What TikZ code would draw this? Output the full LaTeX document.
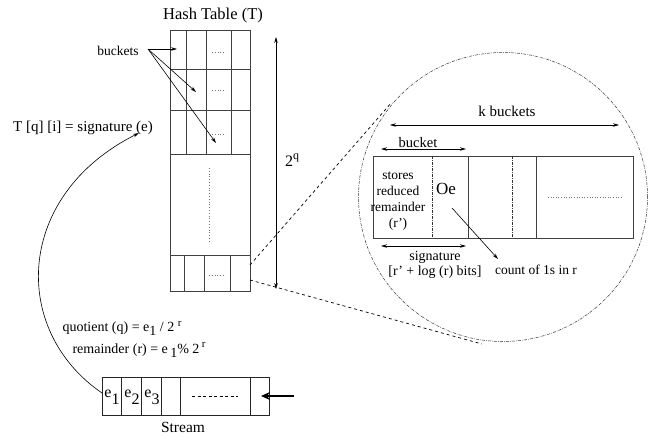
\documentclass[tikz,border=0pt]{standalone}
\usepackage{fontspec}
\setmainfont{Liberation Serif}
\usetikzlibrary{arrows.meta}
\tikzset{
  tbl/.style={draw=black!75, line width=0.9pt},
  thinline/.style={draw=black, line width=0.6pt},
  tip/.style={-{Stealth[length=6pt,width=3.5pt]}},
  dtip/.style={{Stealth[length=6pt,width=3.5pt]}-{Stealth[length=6pt,width=3.5pt]}},
  lbl/.style={inner sep=0pt, font=\fontsize{15}{18}\selectfont},
  slbl/.style={inner sep=0pt, font=\fontsize{13.5}{16}\selectfont},
  dots/.style={draw=black!55, dotted, line width=0.8pt},
  zoomline/.style={draw=black, dashed, dash pattern=on 3pt off 3pt, line width=0.7pt},
  dashdot/.style={draw=black!80, line width=0.5pt, dash pattern=on 3pt off 1.2pt on 0.6pt off 1.2pt},
}
\begin{document}
\begin{tikzpicture}[x=1pt,y=-1pt]
\useasboundingbox (0,0) rectangle (651,437);

% ---------- Hash table ----------
\node[lbl, font=\fontsize{16.5}{18}\selectfont] (title) at (213,16) {Hash Table (T)};
\draw[tbl] (170,30) rectangle (250,291);
\draw[tbl] (170,69) -- (250,69);
\draw[tbl] (170,110) -- (250,110);
\draw[tbl] (170,154) -- (250,154);
\draw[tbl] (170,255) -- (250,255);
\foreach \x in {186,206,231} \draw[tbl] (\x,30) -- (\x,154);
\foreach \x in {184.5,204,230} \draw[tbl] (\x,255) -- (\x,291);
\foreach \y in {52,90,134} \draw[dots] (212,\y) -- (226,\y);
\draw[dots] (209,275) -- (224,275);
\draw[dots] (209,168) -- (209,241);

% buckets label and arrows
\node[slbl] (bk) at (118,51) {buckets};
\coordinate (bks) at (148,49);
\coordinate (b1) at (177,49);
\coordinate (b2) at (196,92);
\coordinate (b3) at (216,143);
\draw[thinline,tip] (bks) -- (b1);
\draw[thinline,tip] (bks) -- (b2);
\draw[thinline,tip] (bks) -- (b3);

% 2^q arrow
\coordinate (qt) at (276,37);
\coordinate (qb) at (276,289);
\draw[thinline,dtip] (qb) -- (qt);
\node[lbl, font=\fontsize{16}{18}\selectfont] (twoq) at (292,160) {2\raisebox{0.9ex}{\fontsize{12}{12}\selectfont q}};

% zoom lines
\coordinate (z1a) at (250,265);
\coordinate (z1b) at (392,102);
\coordinate (z2a) at (250,280);
\coordinate (z2b) at (482,344);
\draw[zoomline] (z1a) -- (z1b);
\draw[zoomline] (z2a) -- (z2b);

% ---------- Zoom circle ----------
\node[dashdot, circle, minimum size=289pt, inner sep=0pt] (circ) at (503,197) {};
\draw[tbl] (373,156) rectangle (633,238);
\draw[tbl] (468,156) -- (468,238);
\draw[tbl] (536,156) -- (536,238);
\draw[dashdot, line width=0.6pt] (432,156) -- (432,238);
\draw[dashdot, line width=0.6pt] (512,156) -- (512,238);
\draw[dots, line width=0.6pt] (548,197) -- (621,197);

\node[lbl] (kb) at (507,111) {k buckets};
\coordinate (kl) at (390,125);
\coordinate (kr) at (619,125);
\draw[thinline,dtip] (kl) -- (kr);

\node[slbl,font=\fontsize{14.5}{16}\selectfont] (bkt) at (418,143) {bucket};
\coordinate (bl) at (381,149);
\coordinate (br) at (466,149);
\draw[thinline,dtip,line width=0.9pt] (bl) -- (br);

\node[slbl, align=center, font=\fontsize{13.5}{16}\selectfont] (stores) at (398,201) {stores\\reduced\\remainder\\(r')};
\node[inner sep=0pt, font=\fontsize{17}{20}\selectfont] (oe) at (446,189) {Oe};
\coordinate (oa) at (452,208);
\coordinate (ob) at (498,259);
\draw[thinline,tip] (oa) -- (ob);

\coordinate (sl) at (381,246);
\coordinate (sr) at (466,246);
\draw[thinline,dtip,line width=0.9pt] (sl) -- (sr);
\node[slbl, align=center, font=\fontsize{14}{15}\selectfont] (sig) at (435,265) {signature\\{}[r' + log (r) bits]};
\node[slbl] (count) at (536,270) {count of 1s in r};

% ---------- left side ----------
\node[lbl] (tq) at (83,128) {T [q] [i] = signature (e)};
\node[slbl, font=\fontsize{14}{16}\selectfont] (quot) at (122,328) {quotient (q) = e\raisebox{-0.5ex}{1} / 2 \raisebox{0.9ex}{\fontsize{11}{12}\selectfont r}};
\node[slbl, font=\fontsize{14}{16}\selectfont] (rem) at (139,350) {remainder (r) = e\,\raisebox{-0.7ex}{1}\% 2\,\raisebox{0.9ex}{\fontsize{11}{12}\selectfont r}};

% stream
\draw[tbl, draw=black!85] (102,377) rectangle (269,415);
\foreach \x in {121.5,141.5,161,180,250} \draw[tbl, draw=black!85] (\x,377) -- (\x,415);
\node[inner sep=0pt, font=\fontsize{16}{18}\selectfont] (e1) at (112,397) {e\raisebox{-0.9ex}{1}};
\node[inner sep=0pt, font=\fontsize{16}{18}\selectfont] (e2) at (132,397) {e\raisebox{-0.9ex}{2}};
\node[inner sep=0pt, font=\fontsize{16}{18}\selectfont] (e3) at (152,397) {e\raisebox{-0.9ex}{3}};
\draw[draw=black, dashed, dash pattern=on 3pt off 2.5pt, line width=0.6pt] (192,396) -- (238,396);
\node[lbl, font=\fontsize{15.5}{18}\selectfont] (stream) at (183,427) {Stream};
\coordinate (inR) at (294,396);
\coordinate (inL) at (261,396);
\draw[line width=2.2pt, -{Stealth[length=9pt,width=8pt]}] (inR) -- (inL);

% curved arrow
\coordinate (cs) at (102,393);
\coordinate (ce) at (139,133);
\draw[thinline,tip] (cs) .. controls (10,330) and (15,195) .. (ce);
\end{tikzpicture}
\end{document}
